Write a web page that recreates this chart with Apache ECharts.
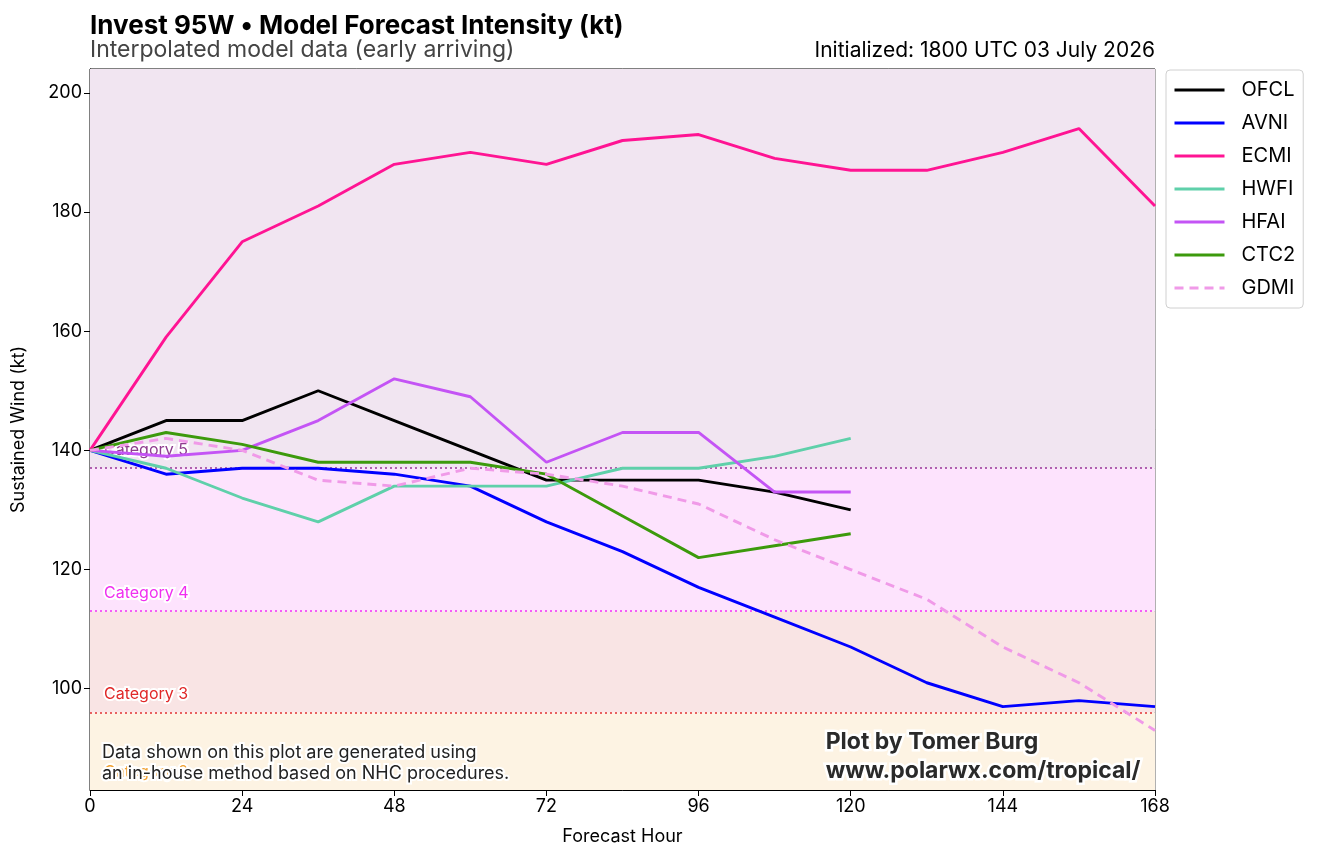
<!DOCTYPE html>
<html>
<head>
<meta charset="utf-8">
<script src="https://cdn.jsdelivr.net/npm/echarts@6/dist/echarts.min.js"></script>
<style>
  html, body { margin: 0; padding: 0; background: #fff; }
  #chart { width: 1318px; height: 860px; }
</style>
</head>
<body>
<div id="chart"></div>
<script>
// forecast hours
const hours = [0, 12, 24, 36, 48, 60, 72, 84, 96, 108, 120, 132, 144, 156, 168];

// model intensities (kt)
const ofcl = [140, 145, 145, 150, 145, 140, 135, 135, 135, 133, 130];
const avni = [140, 136, 137, 137, 136, 134, 128, 123, 117, 112, 107, 101, 97, 98, 97];
const ecmi = [140, 159, 175, 181, 188, 190, 188, 192, 193, 189, 187, 187, 190, 194, 181];
const hwfi = [140, 137, 132, 128, 134, 134, 134, 137, 137, 139, 142];
const hfai = [140, 139, 140, 145, 152, 149, 138, 143, 143, 133, 133];
const ctc2 = [140, 143, 141, 138, 138, 138, 136, 129, 122, 124, 126];
const gdmi = [140, 142, 140, 135, 134, 137, 136, 134, 131, 125, 120, 115, 107, 101, 93];

const yTicks = [100, 120, 140, 160, 180, 200];

// category thresholds
const catNames = ["Category 2", "Category 3", "Category 4", "Category 5"];
const catLow = [83, 96, 113, 137];
const catHigh = [96, 113, 137, 204];
const catFill = ["#fdf3e3", "#f9e4e4", "#fde3fd", "#f1e5f1"];
const catLine = ["rgba(0,0,0,0)", "#e86060", "#f55ef5", "#b060b0"];
const catText = ["#f0a030", "#e02828", "#f030f0", "#8e3c8e"];

const FONT = "Inter, 'DejaVu Sans', sans-serif";

const models = [
  { name: "OFCL", data: ofcl, color: "#000000" },
  { name: "AVNI", data: avni, color: "#0000ff" },
  { name: "ECMI", data: ecmi, color: "#ff1493" },
  { name: "HWFI", data: hwfi, color: "#5fd0aa" },
  { name: "HFAI", data: hfai, color: "#c454f5" },
  { name: "CTC2", data: ctc2, color: "#3c9a0c" },
  { name: "GDMI", data: gdmi, color: "#f09ae8", dashed: true }
];

const series = models.map((m, i) => ({
  name: m.name,
  type: "line",
  data: m.data.map((v, k) => [hours[k], v]),
  symbol: "none",
  z: 10 + i,
  lineStyle: { color: m.color, width: 2.9, type: m.dashed ? [9, 6] : "solid" },
  itemStyle: { color: m.color }
}));

// bands + category lines on a helper series
series.unshift({
  name: "bands",
  type: "line",
  data: [],
  silent: true,
  z: 1,
  markArea: {
    silent: true,
    itemStyle: { opacity: 1 },
    data: catLow.map((lo, i) => [
      { yAxis: lo, itemStyle: { color: catFill[i] } },
      { yAxis: catHigh[i] }
    ])
  },
  markLine: {
    silent: true,
    symbol: "none",
    data: catLow.map((lo, i) => ({
      yAxis: lo,
      lineStyle: { color: catLine[i], type: [2, 3], width: 2 },
      label: {
        show: true,
        formatter: catNames[i],
        position: "insideStartTop",
        distance: [14, 10],
        color: catText[i],
        fontFamily: FONT,
        fontSize: 16,
        textBorderColor: "#fff",
        textBorderWidth: 4
      }
    }))
  }
});

const chart = echarts.init(document.getElementById("chart"));
chart.setOption({
  animation: false,
  backgroundColor: "#fff",
  textStyle: { fontFamily: FONT },
  grid: {
    left: 90, right: 163, top: 69, bottom: 70,
    show: true, borderColor: "#000", borderWidth: 1,
    backgroundColor: "transparent"
  },
  legend: {
    orient: "vertical",
    left: 1166, top: 70,
    data: models.map(m => m.name),
    itemWidth: 50, itemHeight: 14, itemGap: 13,
    itemStyle: { opacity: 0 },
    lineStyle: { width: 3 },
    padding: [10, 8, 10, 7],
    borderColor: "#d0d0d0", borderWidth: 1, borderRadius: 4,
    textStyle: { fontSize: 20, color: "#000", fontFamily: FONT, padding: [0, 0, 0, 12] }
  },
  xAxis: {
    type: "value",
    min: 0, max: 168, interval: 24,
    name: "Forecast Hour",
    nameLocation: "middle",
    nameGap: 38,
    nameTextStyle: { fontSize: 18, color: "#000" },
    axisLine: { lineStyle: { color: "#000" } },
    axisTick: { show: true, length: 6, lineStyle: { color: "#000" } },
    axisLabel: { fontSize: 18, color: "#000", margin: 8 },
    splitLine: { show: true, lineStyle: { color: "#b0b0b0", width: 1 } }
  },
  yAxis: {
    type: "value",
    min: 83, max: 204,
    name: "Sustained Wind (kt)",
    nameLocation: "middle",
    nameGap: 62,
    nameTextStyle: { fontSize: 18, color: "#000" },
    axisLine: { show: true, lineStyle: { color: "#000" } },
    axisTick: { show: true, length: 6, lineStyle: { color: "#000" }, customValues: yTicks },
    axisLabel: { fontSize: 18, color: "#000", margin: 8, customValues: yTicks },
    splitLine: { show: true, lineStyle: { color: "#b0b0b0", width: 1 } }
  },
  graphic: [
    {
      type: "text", left: 90, top: 13, z: 100,
      style: { text: "Invest 95W \u2022 Model Forecast Intensity (kt)", font: "bold 26px " + FONT, fill: "#000" }
    },
    {
      type: "text", left: 90, top: 39, z: 100,
      style: { text: "Interpolated model data (early arriving)", font: "23px " + FONT, fill: "#444" }
    },
    {
      type: "text", right: 163, top: 40, z: 100,
      style: { text: "Initialized: 1800 UTC 03 July 2026", font: "21px " + FONT, fill: "#000", align: "right" }
    },
    {
      type: "text", left: 100, top: 742, z: 100,
      style: {
        text: "Data shown on this plot are generated using\nan in-house method based on NHC procedures.",
        font: "18px " + FONT, fill: "#222", lineHeight: 21,
        stroke: "#fff", lineWidth: 4
      }
    },
    {
      type: "text", right: 175, top: 728, z: 100,
      style: {
        text: "Plot by Tomer Burg\nwww.polarwx.com/tropical/",
        font: "bold 23px " + FONT, fill: "#2a2a2a", lineHeight: 29, align: "right",
        stroke: "#fff", lineWidth: 5
      }
    }
  ],
  series: series
});
</script>
</body>
</html>
